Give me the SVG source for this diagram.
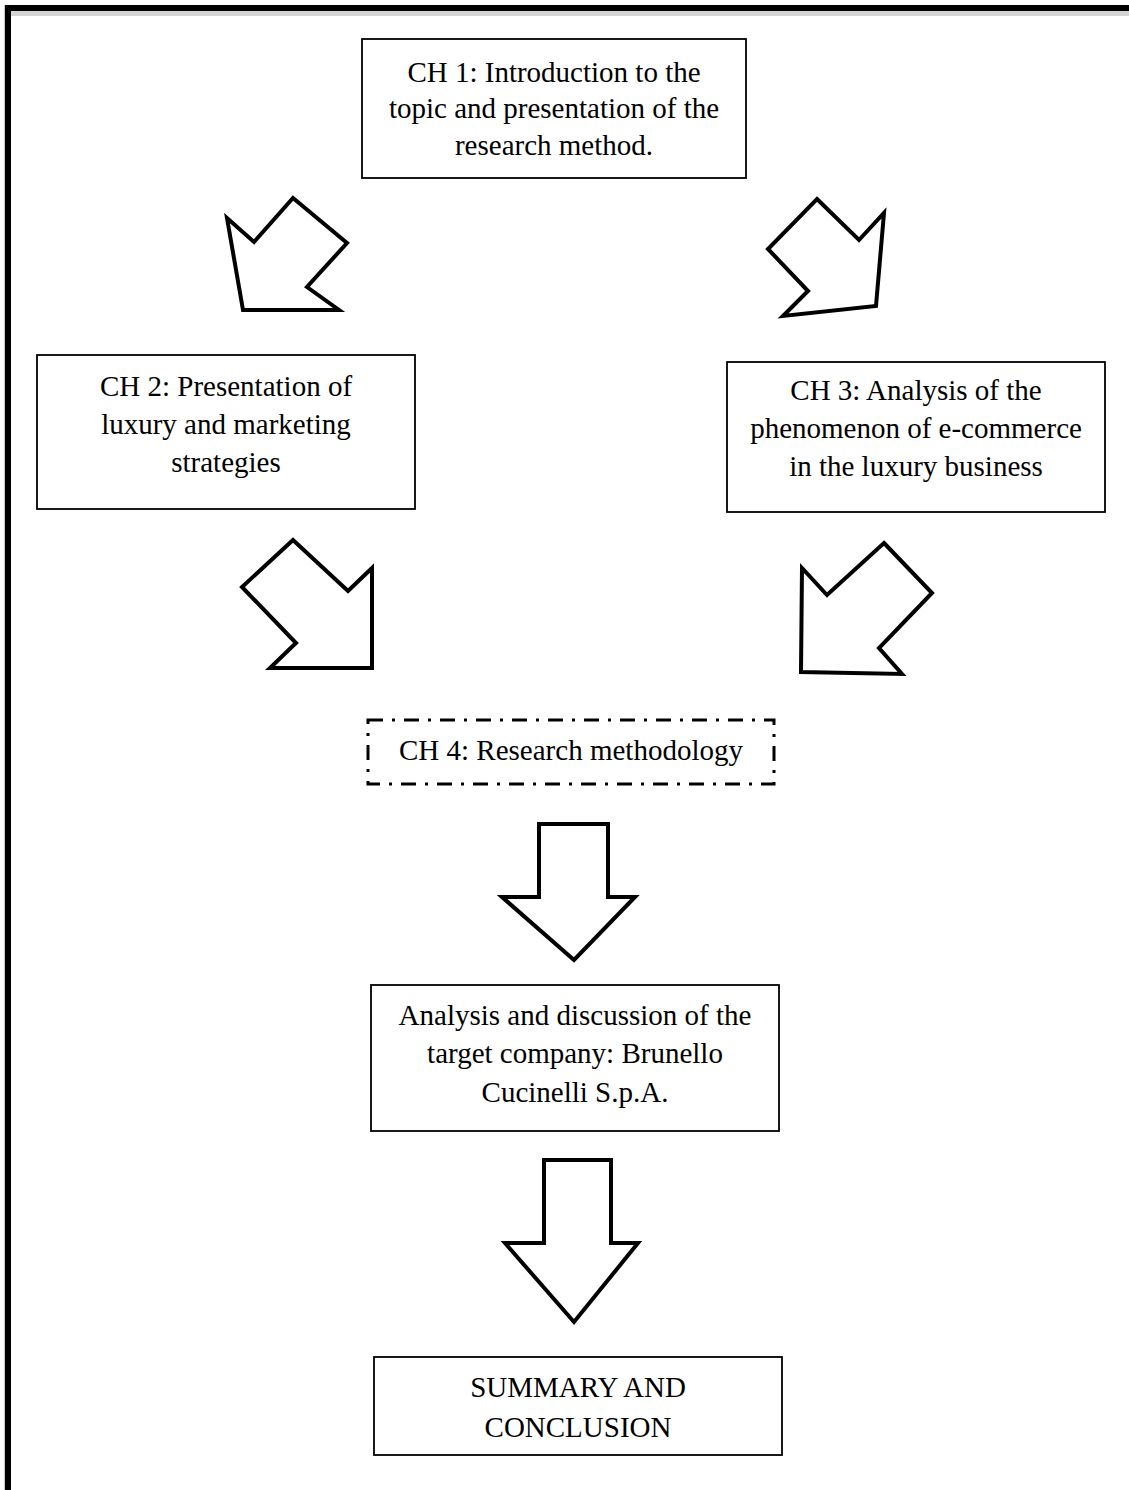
<svg xmlns="http://www.w3.org/2000/svg" width="1129" height="1490" viewBox="0 0 1129 1490">
  <style>
    .box { fill: #fff; stroke: #000; stroke-width: 1.8; }
    .dash { fill: #fff; stroke: #000; stroke-width: 3; stroke-dasharray: 15 9 3 9; }
    .arrow { fill: #fff; stroke: #000; stroke-width: 4; stroke-linejoin: miter; }
    .t { font-family: "Liberation Serif", "Times New Roman", serif; font-size: 29px; fill: #000; text-anchor: middle; }
  </style>
  <rect width="1129" height="1490" fill="#fff"/>

  <!-- page frame: top and left rules -->
  <g id="frame">
    <rect x="4" y="5" width="1.5" height="1485" fill="#c8c8c8"/>
    <rect x="11" y="11" width="1118" height="5" fill="#d4d4d4"/>
    <rect x="5" y="5" width="1124" height="6" fill="#000"/>
    <rect x="5" y="5" width="6" height="1485" fill="#000"/>
  </g>

  <g id="connectors">
    <polygon class="arrow" points="243,310 227,218 254,242 293,198 347,243 307,287 339,310"/>
    <polygon class="arrow" points="817,199 859,240 884,213 876,306 783,316 808,291 768,249"/>
    <polygon class="arrow" points="293,540 348,591 372,568 372,668 270,668 296,643 242,587"/>
    <polygon class="arrow" points="884,543 932,593 879,648 902,674 801,672 802,568 827,595"/>
    <polygon class="arrow" points="539,824 608,824 608,897 635,897 574,960 502,897 539,897"/>
    <polygon class="arrow" points="544,1160 611,1160 611,1243 638,1243 574,1322 505,1243 544,1243"/>
  </g>

  <g id="ch1">
    <rect class="box" x="362" y="39" width="384" height="139"/>
    <text class="t" x="554" y="82">CH 1: Introduction to the</text>
    <text class="t" x="554" y="118">topic and presentation of the</text>
    <text class="t" x="554" y="155">research method.</text>
  </g>

  <g id="ch2">
    <rect class="box" x="37" y="355" width="378" height="154"/>
    <text class="t" x="226" y="396">CH 2: Presentation of</text>
    <text class="t" x="226" y="434">luxury and marketing</text>
    <text class="t" x="226" y="472">strategies</text>
  </g>

  <g id="ch3">
    <rect class="box" x="727" y="362" width="378" height="150"/>
    <text class="t" x="916" y="400">CH 3: Analysis of the</text>
    <text class="t" x="916" y="438">phenomenon of e-commerce</text>
    <text class="t" x="916" y="476">in the luxury business</text>
  </g>

  <g id="ch4">
    <rect class="dash" x="368" y="720" width="406" height="64"/>
    <text class="t" x="571" y="760">CH 4: Research methodology</text>
  </g>

  <g id="analysis">
    <rect class="box" x="371" y="985" width="408" height="146"/>
    <text class="t" x="575" y="1025">Analysis and discussion of the</text>
    <text class="t" x="575" y="1063">target company: Brunello</text>
    <text class="t" x="575" y="1102">Cucinelli S.p.A.</text>
  </g>

  <g id="summary">
    <rect class="box" x="374" y="1357" width="408" height="98"/>
    <text class="t" x="578" y="1397">SUMMARY AND</text>
    <text class="t" x="578" y="1437">CONCLUSION</text>
  </g>
</svg>
